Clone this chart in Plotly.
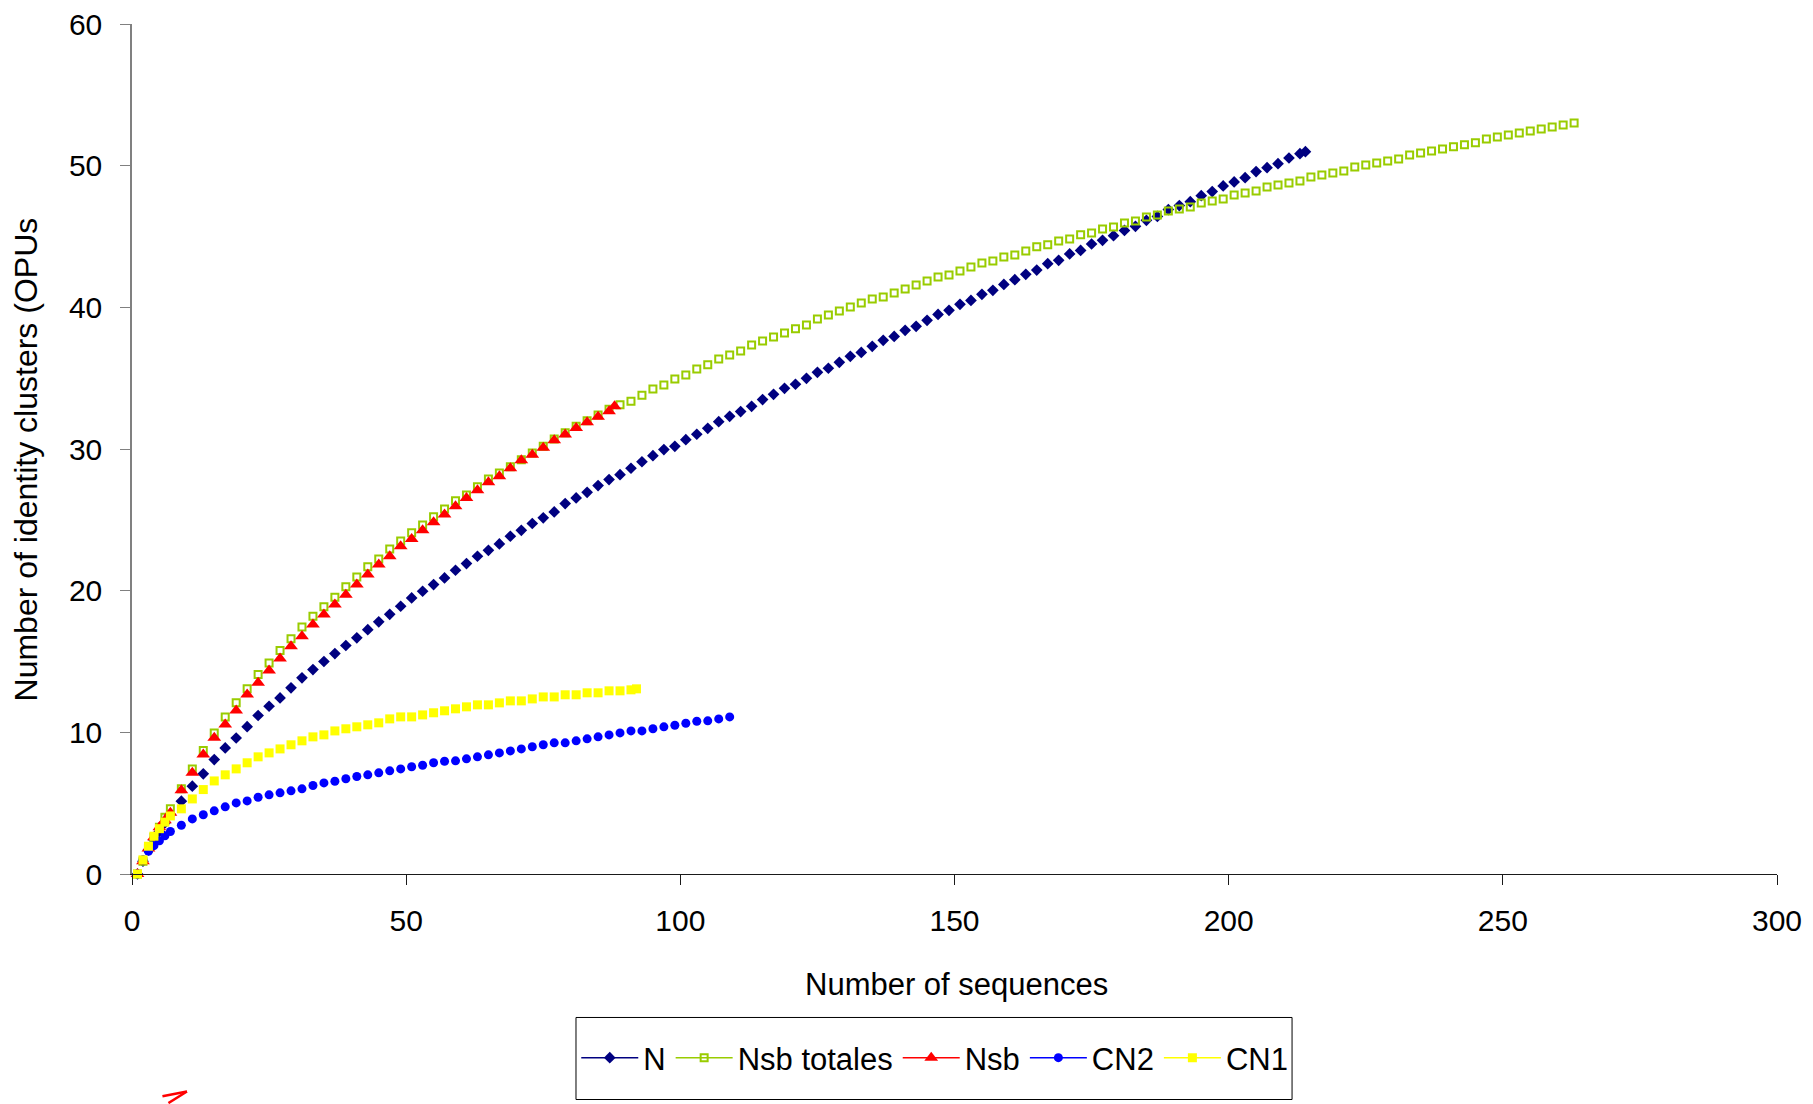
import plotly.graph_objects as go

# ---------------- data ----------------
early_x = [1, 2, 3, 4, 5, 6, 7]

# N
n_x = early_x + list(range(9, 214, 2)) + [214]
n_y = [0, 0.9, 1.7, 2.4, 3.0, 3.6, 4.2,
       5.14, 6.2, 7.07, 8.08, 8.9, 9.6, 10.4, 11.19, 11.84, 12.43,
       13.14, 13.85, 14.43, 15.0, 15.56, 16.13, 16.67, 17.25, 17.8, 18.33,
       18.9, 19.49, 19.96, 20.43, 20.9, 21.44, 21.91, 22.43, 22.85, 23.3,
       23.84, 24.26, 24.74, 25.14, 25.56, 26.15, 26.55, 26.94, 27.42, 27.84,
       28.19, 28.64, 29.1, 29.53, 29.96, 30.19, 30.66, 31.04, 31.46, 31.93,
       32.31, 32.64, 33.01, 33.49, 33.86, 34.28, 34.57, 34.99, 35.41, 35.7,
       36.12, 36.54, 36.82, 37.25, 37.67, 37.95, 38.38, 38.66, 39.08, 39.5,
       39.79, 40.21, 40.49, 40.92, 41.2, 41.62, 41.95, 42.33, 42.63, 43.08,
       43.32, 43.77, 44.02, 44.47, 44.73, 45.06, 45.43, 45.72, 46.14, 46.42,
       46.9, 47.18, 47.46, 47.88, 48.17, 48.57, 48.85, 49.15, 49.58, 49.86,
       50.14, 50.54, 50.85, 50.99]

# Nsb totales
nt_x = early_x + list(range(9, 264, 2))
nt_y = [0, 0.9, 1.8, 2.6, 3.3, 4.0, 4.6,
        6.01, 7.42, 8.72, 9.96, 11.09, 12.08, 13.07, 14.08, 14.9, 15.77,
        16.6, 17.44, 18.19, 18.86, 19.54, 20.27, 20.97, 21.68, 22.24, 22.95,
        23.51, 24.08, 24.64, 25.21, 25.77, 26.34, 26.76, 27.33, 27.89, 28.31,
        28.74, 29.25, 29.72, 30.2, 30.7, 31.15, 31.6, 32.0, 32.4, 32.8,
        33.13, 33.37, 33.79, 34.24, 34.52, 34.95, 35.23, 35.65, 35.94, 36.36,
        36.64, 36.92, 37.35, 37.63, 37.91, 38.19, 38.48, 38.76, 39.18, 39.46,
        39.75, 40.03, 40.31, 40.59, 40.73, 41.02, 41.3, 41.58, 41.86, 42.15,
        42.29, 42.57, 42.85, 43.13, 43.27, 43.56, 43.7, 43.98, 44.28, 44.42,
        44.69, 44.83, 45.13, 45.25, 45.53, 45.67, 45.96, 46.1, 46.38, 46.52,
        46.8, 46.94, 47.09, 47.37, 47.51, 47.65, 47.93, 48.07, 48.21, 48.5,
        48.64, 48.78, 48.92, 49.2, 49.34, 49.48, 49.62, 49.91, 50.05, 50.19,
        50.33, 50.47, 50.75, 50.9, 51.04, 51.18, 51.33, 51.47, 51.61, 51.89,
        52.03, 52.17, 52.31, 52.45, 52.59, 52.73, 52.87, 53.01]

# Nsb
nsb_x = early_x + list(range(9, 88, 2)) + [88]
nsb_y = [0, 0.9, 1.8, 2.6, 3.3, 3.8, 4.32,
         5.91, 7.14, 8.43, 9.61, 10.55, 11.54, 12.67, 13.5, 14.36, 15.21,
         16.08, 16.78, 17.61, 18.31, 19.02, 19.72, 20.43, 21.14, 21.84, 22.43,
         23.13, 23.65, 24.26, 24.83, 25.37, 25.96, 26.55, 27.09, 27.65, 28.07,
         28.64, 29.2, 29.6, 30.08, 30.61, 31.02, 31.49, 31.89, 32.27, 32.66,
         33.01]

# CN2
cn2_x = early_x + list(range(9, 110, 2))
cn2_y = [0, 1.0, 1.6, 2.0, 2.35, 2.7, 3.0,
         3.44, 3.89, 4.18, 4.46, 4.74, 5.02, 5.16, 5.42, 5.59, 5.73,
         5.87, 6.01, 6.25, 6.43, 6.55, 6.72, 6.88, 7.0, 7.14, 7.28,
         7.42, 7.57, 7.68, 7.85, 7.96, 7.99, 8.13, 8.27, 8.41, 8.55,
         8.69, 8.83, 8.98, 9.12, 9.26, 9.26, 9.4, 9.54, 9.68, 9.82,
         9.96, 10.1, 10.1, 10.25, 10.39, 10.5, 10.64, 10.78, 10.81, 10.95,
         11.09]

# CN1
cn1_x = early_x + list(range(9, 92, 2)) + [92]
cn1_y = [0, 1.0, 1.96, 2.67, 3.2, 3.66, 4.1,
         4.6, 5.3, 5.96, 6.57, 7.0, 7.42, 7.85, 8.27, 8.55, 8.83,
         9.12, 9.4, 9.68, 9.82, 10.1, 10.25, 10.39, 10.53, 10.67, 10.95,
         11.09, 11.09, 11.23, 11.38, 11.52, 11.66, 11.8, 11.94, 11.94, 12.08,
         12.22, 12.22, 12.36, 12.5, 12.5, 12.65, 12.65, 12.79, 12.79, 12.93,
         12.93, 13.0, 13.07]

x_ticks = [0, 50, 100, 150, 200, 250, 300]
y_ticks = [0, 10, 20, 30, 40, 50, 60]

series = [
    ("N", n_x, n_y, dict(symbol="diamond", size=9, color="#000080")),
    ("Nsb totales", nt_x, nt_y, dict(symbol="square-open", size=7, color="#99CC00",
                                      line=dict(width=2, color="#99CC00"))),
    ("Nsb", nsb_x, nsb_y, dict(symbol="triangle-up", size=12, color="#FF0000")),
    ("CN2", cn2_x, cn2_y, dict(symbol="circle", size=9, color="#0000FF")),
    ("CN1", cn1_x, cn1_y, dict(symbol="square", size=9, color="#FFFF00")),
]

FONT = "Liberation Sans, Arial, sans-serif"

fig = go.Figure()
for name, xs, ys, mk in series:
    fig.add_trace(go.Scatter(x=xs, y=ys, mode="markers", name=name,
                             marker=mk, showlegend=False, cliponaxis=False))
# legend entries (line + marker symbol, as in the reference legend)
for name, xs, ys, mk in series:
    fig.add_trace(go.Scatter(x=[None], y=[None], mode="lines+markers", name=name,
                             marker=mk, line=dict(color=mk["color"], width=1.5),
                             showlegend=True))

tick_font = dict(family=FONT, size=30, color="black")
common = dict(ticks="outside", ticklen=10, tickwidth=1, showgrid=False,
              zeroline=False, showline=True, tickfont=tick_font,
              ticklabeloverflow="allow")

fig.update_xaxes(range=[0, 300], tickvals=x_ticks, ticktext=[str(v) for v in x_ticks],
                 linecolor="#1a1a1a", linewidth=1, tickcolor="#1a1a1a",
                 ticklabelstandoff=10, **common)
fig.update_yaxes(range=[0, 60], tickvals=y_ticks, ticktext=[str(v) for v in y_ticks],
                 linecolor="#808080", linewidth=1.5, tickcolor="#808080",
                 ticklabelstandoff=12, **common)

fig.update_layout(
    width=1805, height=1096,
    margin=dict(l=124, r=36, t=16, b=230, autoexpand=False),
    paper_bgcolor="white", plot_bgcolor="white",
    font=dict(family=FONT, color="black"),
    showlegend=True,
    legend=dict(orientation="h", x=0.488, y=-0.2165, xanchor="center", yanchor="middle",
                font=dict(family=FONT, size=31, color="black"),
                bgcolor="rgba(0,0,0,0)", borderwidth=0, itemwidth=57),
    shapes=[dict(type="rect", xref="paper", yref="paper",
                 x0=0.2699, x1=0.7052, y0=-0.1688, y1=-0.2653,
                 line=dict(color="black", width=1), fillcolor="rgba(0,0,0,0)")],
    annotations=[
        dict(text="Number of sequences", xref="paper", yref="paper",
             x=0.5015, y=-0.130, xanchor="center", yanchor="middle",
             showarrow=False, font=dict(family=FONT, size=31, color="black")),
        dict(text="Number of identity clusters (OPUs", xref="paper", yref="paper",
             x=-0.0645, y=0.4876, xanchor="center", yanchor="middle", textangle=-90,
             showarrow=False, font=dict(family=FONT, size=32, color="black")),
        dict(text="", xref="paper", yref="paper", x=0.0334, y=-0.2559,
             showarrow=True, arrowhead=0, arrowcolor="#FF0000", arrowwidth=2.5,
             ax=-26, ay=5),
        dict(text="", xref="paper", yref="paper", x=0.0334, y=-0.2559,
             showarrow=True, arrowhead=0, arrowcolor="#FF0000", arrowwidth=2.5,
             ax=-20, ay=14),
    ],
)

fig.write_html("out.html")
